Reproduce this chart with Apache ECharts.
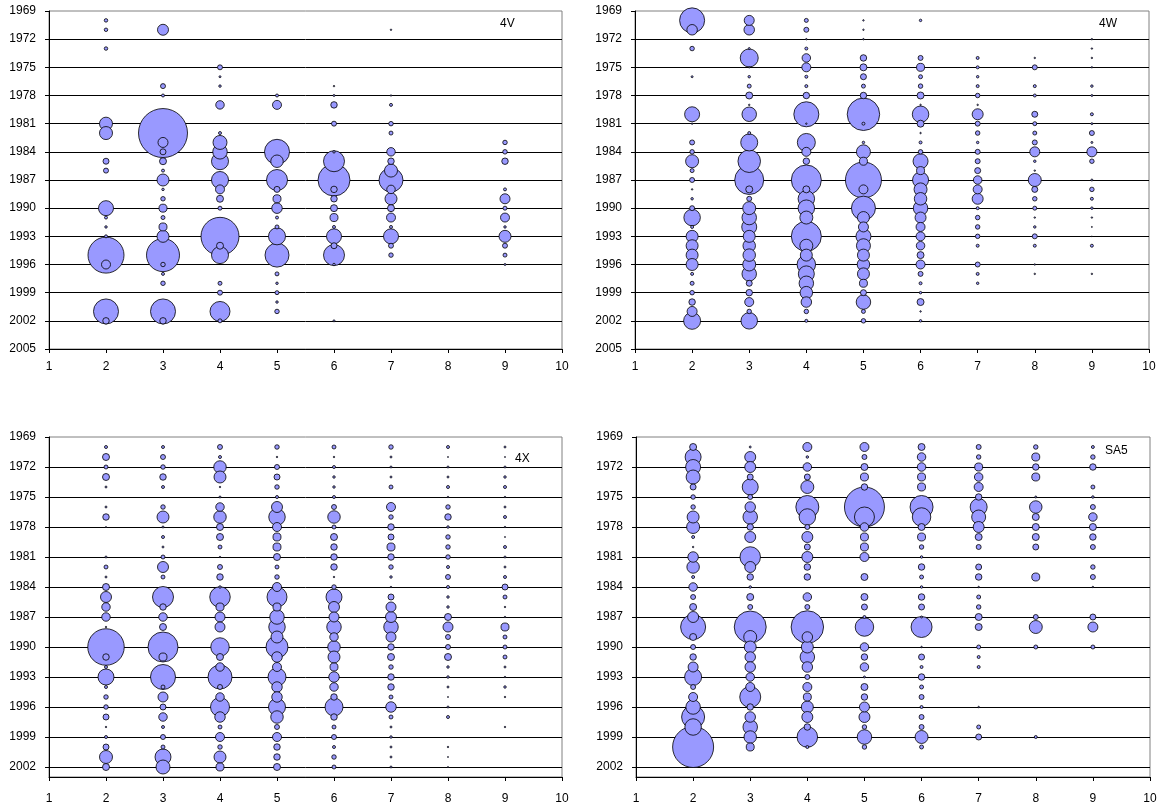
<!DOCTYPE html>
<html><head><meta charset="utf-8">
<script src="https://cdn.jsdelivr.net/npm/echarts@6/dist/echarts.min.js"></script>
<style>html,body{margin:0;padding:0;background:#fff}#c{width:1162px;height:807px}</style>
</head><body><div id="c"></div>
<script>
// Panel names
const PANEL_NAMES = ['4V', '4W', '4X', 'SA5'];
// y (year) axis ranges
const YEAR_RANGE_TOP = [1969, 2005];
const YEAR_RANGE_BOTTOM = [1969, 2003];
const YEAR_STEP = 3;
const AGE_RANGE = [1, 10];

// [age, year, index value]  (bubble area ~ value)
const PANEL_4V = [
[2,1970,0.34],[2,1971,0.34],[2,1973,0.34],[2,1981,4.7],[2,1982,4.7],[2,1985,1.0],[2,1986,0.7],[2,1990,6.25],[2,1991,0.25],[2,1992,0.17],[2,1993,0.25],[2,1995,36],[2,1996,2.25],[2,2001,17.4],[2,2002,1.17],
[3,1971,3.36],[3,1977,0.69],[3,1978,0.25],[3,1982,66.7],[3,1983,2.78],[3,1984,1.0],[3,1985,1.36],[3,1986,0.25],[3,1987,4.0],[3,1988,0.17],[3,1989,0.56],[3,1990,1.78],[3,1991,0.44],[3,1992,1.78],[3,1993,4.0],[3,1995,30.25],[3,1996,0.56],[3,1997,0.25],[3,1998,0.56],[3,2001,17.4],[3,2002,1.17],
[4,1975,0.69],[4,1976,0.11],[4,1977,0.17],[4,1979,2.0],[4,1982,0.25],[4,1983,5.44],[4,1984,5.84],[4,1985,8.03],[4,1987,8.03],[4,1988,2.25],[4,1989,1.36],[4,1990,0.44],[4,1993,40.1],[4,1994,1.36],[4,1995,8.03],[4,1998,0.44],[4,1999,0.69],[4,2001,11.1],[4,2002,0.44],
[5,1978,0.25],[5,1979,2.25],[5,1984,17.4],[5,1985,4.34],[5,1987,12.25],[5,1988,1.0],[5,1989,1.78],[5,1990,3.06],[5,1991,0.25],[5,1992,0.44],[5,1993,8.03],[5,1995,16],[5,1997,0.44],[5,1998,0.17],[5,1999,0.44],[5,2000,0.17],[5,2001,0.56],
[6,1977,0.06],[6,1978,0.11],[6,1979,1.17],[6,1981,0.69],[6,1984,0.17],[6,1985,12.25],[6,1987,28.4],[6,1988,1.17],[6,1989,1.17],[6,1990,1.36],[6,1991,1.78],[6,1992,0.25],[6,1993,6.25],[6,1994,1.0],[6,1995,12.25],[6,1996,0.17],[6,2002,0.11],
[7,1971,0.06],[7,1978,0.06],[7,1979,0.25],[7,1981,0.56],[7,1982,0.44],[7,1984,2.0],[7,1985,1.17],[7,1986,4.69],[7,1987,16],[7,1988,2.0],[7,1989,4.0],[7,1990,1.36],[7,1991,2.25],[7,1992,0.25],[7,1993,6.25],[7,1994,0.69],[7,1995,0.56],
[9,1983,0.56],[9,1984,0.56],[9,1985,1.17],[9,1988,0.25],[9,1989,2.78],[9,1990,0.44],[9,1991,2.25],[9,1992,0.17],[9,1993,4.0],[9,1994,0.69],[9,1995,0.44],[9,1996,0.11]
];

const PANEL_4W = [
[2,1970,17.4],[2,1971,3.06],[2,1973,0.56],[2,1976,0.11],[2,1980,6.25],[2,1981,0.06],[2,1983,0.69],[2,1984,0.56],[2,1985,4.69],[2,1986,0.44],[2,1987,0.69],[2,1988,0.06],[2,1989,0.17],[2,1990,0.69],[2,1991,7.56],[2,1992,0.25],[2,1993,4],[2,1994,4],[2,1995,4],[2,1996,4],[2,1997,0.25],[2,1998,0.44],[2,1999,0.56],[2,2000,1.17],[2,2001,2.78],[2,2002,8.03],
[3,1970,2.78],[3,1971,3.06],[3,1973,0.11],[3,1974,9],[3,1975,0.06],[3,1976,0.17],[3,1977,0.44],[3,1978,1.36],[3,1979,0.06],[3,1980,5.84],[3,1982,0.25],[3,1983,8.03],[3,1985,14.1],[3,1987,23.4],[3,1988,1.36],[3,1989,0.69],[3,1990,4.69],[3,1991,5.84],[3,1992,6.25],[3,1993,4],[3,1994,4.34],[3,1995,4.34],[3,1996,4.69],[3,1997,5.84],[3,1998,1],[3,1999,1.17],[3,2000,2.25],[3,2001,0.56],[3,2002,7.56],
[4,1970,0.44],[4,1971,0.69],[4,1972,0.06],[4,1973,0.25],[4,1974,2],[4,1975,2.25],[4,1976,0.25],[4,1977,0.25],[4,1978,1.17],[4,1980,17.4],[4,1981,0.06],[4,1983,9],[4,1984,2.25],[4,1985,1.17],[4,1987,25],[4,1988,1.36],[4,1989,7.56],[4,1990,7.56],[4,1991,4.69],[4,1993,25],[4,1994,4.69],[4,1995,4],[4,1996,9.5],[4,1997,7.11],[4,1998,5.84],[4,1999,4.34],[4,2000,3.06],[4,2001,0.56],[4,2002,0.25],
[5,1970,0.06],[5,1971,0.06],[5,1972,0.06],[5,1974,1.17],[5,1975,1.36],[5,1976,1],[5,1977,0.44],[5,1978,1.17],[5,1980,29.3],[5,1981,0.25],[5,1983,0.17],[5,1984,5.44],[5,1985,1.78],[5,1987,36],[5,1988,2.25],[5,1990,16],[5,1991,4],[5,1992,2.78],[5,1993,6.25],[5,1994,5.44],[5,1995,4],[5,1996,4.34],[5,1997,4],[5,1998,1.78],[5,1999,1],[5,2000,5.84],[5,2001,0.44],[5,2002,0.56],
[6,1970,0.17],[6,1974,0.69],[6,1975,1.78],[6,1976,0.44],[6,1977,0.56],[6,1978,1.36],[6,1979,0.06],[6,1980,7.56],[6,1981,1.36],[6,1982,0.06],[6,1983,0.25],[6,1984,0.56],[6,1985,6.25],[6,1986,1.78],[6,1987,7.11],[6,1988,4.69],[6,1989,4.34],[6,1990,5.84],[6,1991,3.36],[6,1992,2.25],[6,1993,2.25],[6,1994,2],[6,1995,1.36],[6,1996,2.25],[6,1997,0.69],[6,1998,0.25],[6,1999,0.17],[6,2000,1.36],[6,2001,0.06],[6,2002,0.17],
[7,1974,0.25],[7,1975,0.25],[7,1976,0.17],[7,1977,0.25],[7,1978,0.56],[7,1979,0.06],[7,1980,3.36],[7,1981,0.69],[7,1982,0.56],[7,1983,0.17],[7,1984,0.69],[7,1985,0.69],[7,1986,1],[7,1987,2],[7,1988,2.25],[7,1989,3.36],[7,1990,0.25],[7,1991,0.56],[7,1992,0.56],[7,1993,0.56],[7,1994,0.25],[7,1996,0.69],[7,1997,0.25],[7,1998,0.17],
[8,1974,0.06],[8,1975,0.69],[8,1977,0.25],[8,1978,0.25],[8,1980,1],[8,1981,0.44],[8,1982,0.44],[8,1983,0.69],[8,1984,2.78],[8,1985,0.17],[8,1986,0.06],[8,1987,4.69],[8,1988,1],[8,1989,0.56],[8,1990,0.44],[8,1991,0.06],[8,1992,0.17],[8,1993,0.69],[8,1994,0.25],[8,1996,0.06],[8,1997,0.06],
[9,1972,0.06],[9,1973,0.06],[9,1974,0.06],[9,1975,0.06],[9,1977,0.17],[9,1978,0.11],[9,1980,0.25],[9,1981,0.11],[9,1982,0.69],[9,1983,0.11],[9,1984,2.78],[9,1985,0.56],[9,1987,0.11],[9,1988,0.56],[9,1989,0.25],[9,1990,0.17],[9,1991,0.06],[9,1992,0.03],[9,1993,0.02],[9,1994,0.25],[9,1997,0.06]
];

const PANEL_4X = [
[2,1970,0.25],[2,1971,1.36],[2,1972,0.44],[2,1973,1.36],[2,1974,0.11],[2,1976,0.11],[2,1977,1.17],[2,1978,0.03],[2,1981,0.11],[2,1982,0.44],[2,1983,0.11],[2,1984,1.36],[2,1985,3.36],[2,1986,2],[2,1987,2],[2,1988,0.06],[2,1990,37],[2,1991,1.17],[2,1992,0.25],[2,1993,7.11],[2,1994,0.25],[2,1995,0.56],[2,1996,0.56],[2,1997,1],[2,1998,0.06],[2,1999,0.25],[2,2000,1],[2,2001,4.69],[2,2002,1.36],
[3,1970,0.25],[3,1971,0.69],[3,1972,0.56],[3,1973,1.17],[3,1974,0.25],[3,1976,0.56],[3,1977,4],[3,1978,0.11],[3,1979,0.25],[3,1980,0.11],[3,1981,0.44],[3,1982,3.36],[3,1983,0.44],[3,1985,12.25],[3,1986,1.17],[3,1987,2],[3,1988,1.36],[3,1990,25],[3,1991,1.78],[3,1993,17.4],[3,1994,0.44],[3,1995,2.78],[3,1996,1],[3,1997,2],[3,1998,0.25],[3,1999,0.69],[3,2000,0.44],[3,2001,7.11],[3,2002,5.44],
[4,1970,0.69],[4,1971,0.25],[4,1972,4.34],[4,1973,4],[4,1974,0.06],[4,1975,0.11],[4,1976,2],[4,1977,4.34],[4,1978,1.36],[4,1979,1.36],[4,1980,0.44],[4,1981,0.06],[4,1982,0.69],[4,1983,1.17],[4,1984,0.17],[4,1985,11.7],[4,1986,1.78],[4,1987,2.78],[4,1988,2.78],[4,1990,9.5],[4,1991,1.36],[4,1992,2],[4,1993,16],[4,1994,0.69],[4,1995,2],[4,1996,10],[4,1997,3.06],[4,1998,0.44],[4,1999,2.25],[4,2000,0.56],[4,2001,4],[4,2002,1.78],
[5,1970,0.56],[5,1971,0.06],[5,1972,0.69],[5,1973,1],[5,1974,0.56],[5,1975,0.25],[5,1976,3.36],[5,1977,7.56],[5,1978,2.25],[5,1979,1.78],[5,1980,1.78],[5,1981,1.36],[5,1982,0.44],[5,1983,0.56],[5,1984,2.25],[5,1985,11.1],[5,1986,1.78],[5,1987,5.84],[5,1988,7.56],[5,1989,4],[5,1990,13.4],[5,1991,3.06],[5,1992,2.25],[5,1993,9],[5,1994,3.06],[5,1995,3.06],[5,1996,8.03],[5,1997,4.34],[5,1998,0.69],[5,1999,2.25],[5,2000,1.17],[5,2001,1.17],[5,2002,1.36],
[6,1970,0.44],[6,1971,0.06],[6,1972,0.25],[6,1973,0.17],[6,1974,0.17],[6,1975,0.25],[6,1976,0.69],[6,1977,4.34],[6,1978,0.44],[6,1979,1.36],[6,1980,1.17],[6,1981,1.17],[6,1982,1.17],[6,1983,0.06],[6,1984,0.56],[6,1985,7.11],[6,1986,3.36],[6,1987,2.78],[6,1988,5.84],[6,1989,2],[6,1990,4.34],[6,1991,4],[6,1992,1.78],[6,1993,3.06],[6,1994,2],[6,1995,1.17],[6,1996,9],[6,1997,1.17],[6,1998,0.44],[6,1999,0.69],[6,2000,0.25],[6,2001,0.56],[6,2002,0.44],
[7,1970,0.56],[7,1971,0.11],[7,1972,0.11],[7,1973,0.11],[7,1974,0.44],[7,1976,2.25],[7,1977,0.56],[7,1978,1.17],[7,1979,1],[7,1980,1.78],[7,1981,1.17],[7,1982,0.56],[7,1983,0.17],[7,1984,0.06],[7,1985,1],[7,1986,2.78],[7,1987,3.36],[7,1988,5.84],[7,1989,2.78],[7,1990,1.17],[7,1991,1.36],[7,1992,0.56],[7,1993,1.17],[7,1994,1.17],[7,1995,0.44],[7,1996,3.06],[7,1997,0.44],[7,1998,0.11],[7,1999,0.17],[7,2000,0.11],[7,2001,0.11],[7,2002,0.11],
[8,1970,0.25],[8,1971,0.03],[8,1972,0.11],[8,1973,0.11],[8,1974,0.25],[8,1975,0.06],[8,1976,0.56],[8,1977,1.17],[8,1978,0.17],[8,1979,0.56],[8,1980,0.56],[8,1981,0.56],[8,1982,0.25],[8,1983,0.69],[8,1984,0.25],[8,1985,0.17],[8,1986,0.17],[8,1987,1.36],[8,1988,2.78],[8,1989,0.69],[8,1990,0.69],[8,1991,1.36],[8,1992,0.17],[8,1993,0.17],[8,1994,0.11],[8,1995,0.03],[8,1996,0.11],[8,1997,0.25],[8,2000,0.06],[8,2001,0.03],[8,2002,0.03],
[9,1970,0.11],[9,1971,0.03],[9,1972,0.11],[9,1973,0.17],[9,1974,0.25],[9,1975,0.06],[9,1976,0.11],[9,1977,0.25],[9,1978,0.06],[9,1979,0.03],[9,1980,0.25],[9,1981,0.11],[9,1982,0.11],[9,1983,0.25],[9,1984,1.0],[9,1985,0.44],[9,1986,0.06],[9,1987,0.06],[9,1988,1.78],[9,1989,0.44],[9,1990,0.44],[9,1991,0.44],[9,1992,0.11],[9,1993,0.06],[9,1994,0.17],[9,1995,0.06],[9,1998,0.06]
];

const PANEL_SA5 = [
[2,1970,1.36],[2,1971,7.11],[2,1972,6.25],[2,1973,5.44],[2,1974,1],[2,1975,0.56],[2,1976,0.56],[2,1977,4],[2,1978,4.69],[2,1979,0.25],[2,1980,0.06],[2,1981,3.06],[2,1982,4.34],[2,1983,0.25],[2,1984,2],[2,1985,0.69],[2,1986,1.36],[2,1987,3.36],[2,1988,17.4],[2,1989,1.36],[2,1990,0.69],[2,1991,1.17],[2,1992,2.78],[2,1993,8.03],[2,1994,0.69],[2,1995,2.25],[2,1996,5.84],[2,1997,14.7],[2,1998,7.56],[2,2000,46.7],
[3,1970,0.11],[3,1971,3.36],[3,1972,3.36],[3,1973,1],[3,1974,7.11],[3,1975,0.69],[3,1976,3.06],[3,1977,5.84],[3,1978,1.17],[3,1979,3.36],[3,1981,11.7],[3,1982,3.36],[3,1983,1.17],[3,1984,0.17],[3,1985,1.36],[3,1986,0.69],[3,1988,28.4],[3,1989,4.69],[3,1990,4],[3,1991,3.06],[3,1992,3.06],[3,1993,2],[3,1994,2.25],[3,1995,12.25],[3,1996,1.17],[3,1997,3.06],[3,1998,5.84],[3,1999,4.34],[3,2000,1.78],
[4,1970,2.25],[4,1971,0.17],[4,1972,2],[4,1973,1],[4,1974,4.69],[4,1976,14.7],[4,1977,7.56],[4,1978,0.69],[4,1979,3.36],[4,1980,1],[4,1981,3.36],[4,1982,1.17],[4,1983,1.17],[4,1985,2],[4,1986,0.69],[4,1988,29.3],[4,1989,3.06],[4,1990,4],[4,1991,5.84],[4,1992,3.06],[4,1993,0.69],[4,1994,2.25],[4,1995,1.78],[4,1996,4],[4,1997,3.36],[4,1998,1.17],[4,1999,11.7],[4,2000,0.25],
[5,1970,2.25],[5,1971,0.69],[5,1972,1.36],[5,1973,1.78],[5,1974,1.17],[5,1976,44.4],[5,1977,11.1],[5,1978,2],[5,1979,1.78],[5,1980,1.78],[5,1981,2.25],[5,1983,1.36],[5,1985,1.36],[5,1986,1],[5,1987,0.25],[5,1988,9.5],[5,1990,2],[5,1991,1.17],[5,1992,2],[5,1993,0.11],[5,1994,1.36],[5,1995,1.17],[5,1996,2.78],[5,1997,3.36],[5,1998,0.56],[5,1999,5.84],[5,2000,0.56],
[6,1970,1.36],[6,1971,2],[6,1972,2],[6,1973,1.78],[6,1974,1.78],[6,1976,14.7],[6,1977,9.5],[6,1978,1.36],[6,1979,1.78],[6,1980,0.56],[6,1981,0.17],[6,1982,1.17],[6,1983,0.44],[6,1984,0.17],[6,1985,1.17],[6,1986,1],[6,1987,0.11],[6,1988,12.25],[6,1990,0.06],[6,1991,1],[6,1992,0.25],[6,1993,1.17],[6,1994,0.44],[6,1995,0.69],[6,1996,0.25],[6,1997,0.69],[6,1998,0.69],[6,1999,4.69],[6,2000,0.44],
[7,1970,0.69],[7,1971,0.56],[7,1972,1.78],[7,1973,2],[7,1974,2.25],[7,1975,1.17],[7,1976,8.03],[7,1977,5.44],[7,1978,3.36],[7,1979,1.36],[7,1980,0.69],[7,1982,1],[7,1983,1.17],[7,1984,0.06],[7,1985,0.44],[7,1986,0.56],[7,1987,1.36],[7,1988,1.36],[7,1990,0.44],[7,1991,0.25],[7,1992,0.25],[7,1996,0.06],[7,1998,0.44],[7,1999,1],
[8,1970,0.56],[8,1971,1.78],[8,1972,1.17],[8,1973,1.78],[8,1975,0.11],[8,1976,4.34],[8,1977,1.36],[8,1978,1.36],[8,1979,1.36],[8,1980,1],[8,1983,1.78],[8,1987,0.69],[8,1988,4.69],[8,1990,0.44],[8,1999,0.25],
[9,1970,0.25],[9,1971,0.56],[9,1972,1.17],[9,1974,0.44],[9,1975,0.17],[9,1976,0.69],[9,1977,2],[9,1978,1.36],[9,1979,1.17],[9,1980,0.69],[9,1982,0.56],[9,1983,0.69],[9,1984,0.06],[9,1987,1],[9,1988,2.78],[9,1990,0.44]
];

const PANELS = [PANEL_4V, PANEL_4W, PANEL_4X, PANEL_SA5];

// ---- layout / style ----
const SIZE_K = 6;           // bubble diameter = SIZE_K * sqrt(value)
const FONT = 'Liberation Sans, Arial, sans-serif';
const GRIDS = [
  {left: 49, top: 11, width: 513, height: 338},
  {left: 635, top: 11, width: 514, height: 338},
  {left: 49, top: 437, width: 513, height: 340},
  {left: 636, top: 437, width: 514, height: 340}
];
const LABEL_POS = [
  {x: 508, y: 25}, {x: 1107, y: 25}, {x: 523, y: 460}, {x: 1113, y: 452}
];

const chart = echarts.init(document.getElementById('c'), null, {renderer: 'canvas'});

const option = {
  animation: false,
  backgroundColor: '#ffffff',
  grid: GRIDS.map(g => Object.assign({show: true, borderColor: '#808080', borderWidth: 1, backgroundColor: 'transparent', containLabel: false}, g)),
  xAxis: GRIDS.map((g, i) => ({
    type: 'value', gridIndex: i, min: AGE_RANGE[0], max: AGE_RANGE[1], interval: 1,
    position: 'bottom',
    axisLine: {show: true, onZero: false, lineStyle: {color: '#000', width: 1}},
    axisTick: {show: true, inside: false, length: 4, lineStyle: {color: '#000'}},
    splitLine: {show: false},
    axisLabel: {color: '#000', fontSize: 12, fontFamily: FONT, margin: i < 2 ? 12 : 16,
      formatter: v => String(v)}
  })),
  yAxis: GRIDS.map((g, i) => {
    const r = i < 2 ? YEAR_RANGE_TOP : YEAR_RANGE_BOTTOM;
    return {
      type: 'value', gridIndex: i, inverse: true, min: r[0], max: r[1], interval: YEAR_STEP,
      axisLine: {show: true, onZero: false, lineStyle: {color: '#000', width: 1}},
      axisTick: {show: true, inside: false, length: 4, lineStyle: {color: '#000'}},
      splitLine: {show: true, showMinLine: false, lineStyle: {color: '#000', width: 1}},
      axisLabel: {color: '#000', fontSize: 12, fontFamily: FONT, margin: 13, showMaxLabel: i < 2,
        formatter: v => String(v)}
    };
  }),
  graphic: PANEL_NAMES.map((name, i) => ({
    type: 'text', left: LABEL_POS[i].x - 8, top: LABEL_POS[i].y - 7, z: 100,
    style: {text: name, fill: '#000', fontSize: 12, fontFamily: FONT}
  })),
  series: PANELS.map((d, i) => ({
    type: 'scatter', name: PANEL_NAMES[i], xAxisIndex: i, yAxisIndex: i,
    clip: false,
    data: d.slice().sort((a, b) => b[2] - a[2]),
    symbol: 'circle',
    symbolSize: v => SIZE_K * Math.sqrt(v[2]),
    itemStyle: {color: '#9999FF', borderColor: '#000', borderWidth: 0.8, opacity: 1},
    emphasis: {disabled: true},
    silent: true
  }))
};
chart.setOption(option);
</script>
</body></html>
